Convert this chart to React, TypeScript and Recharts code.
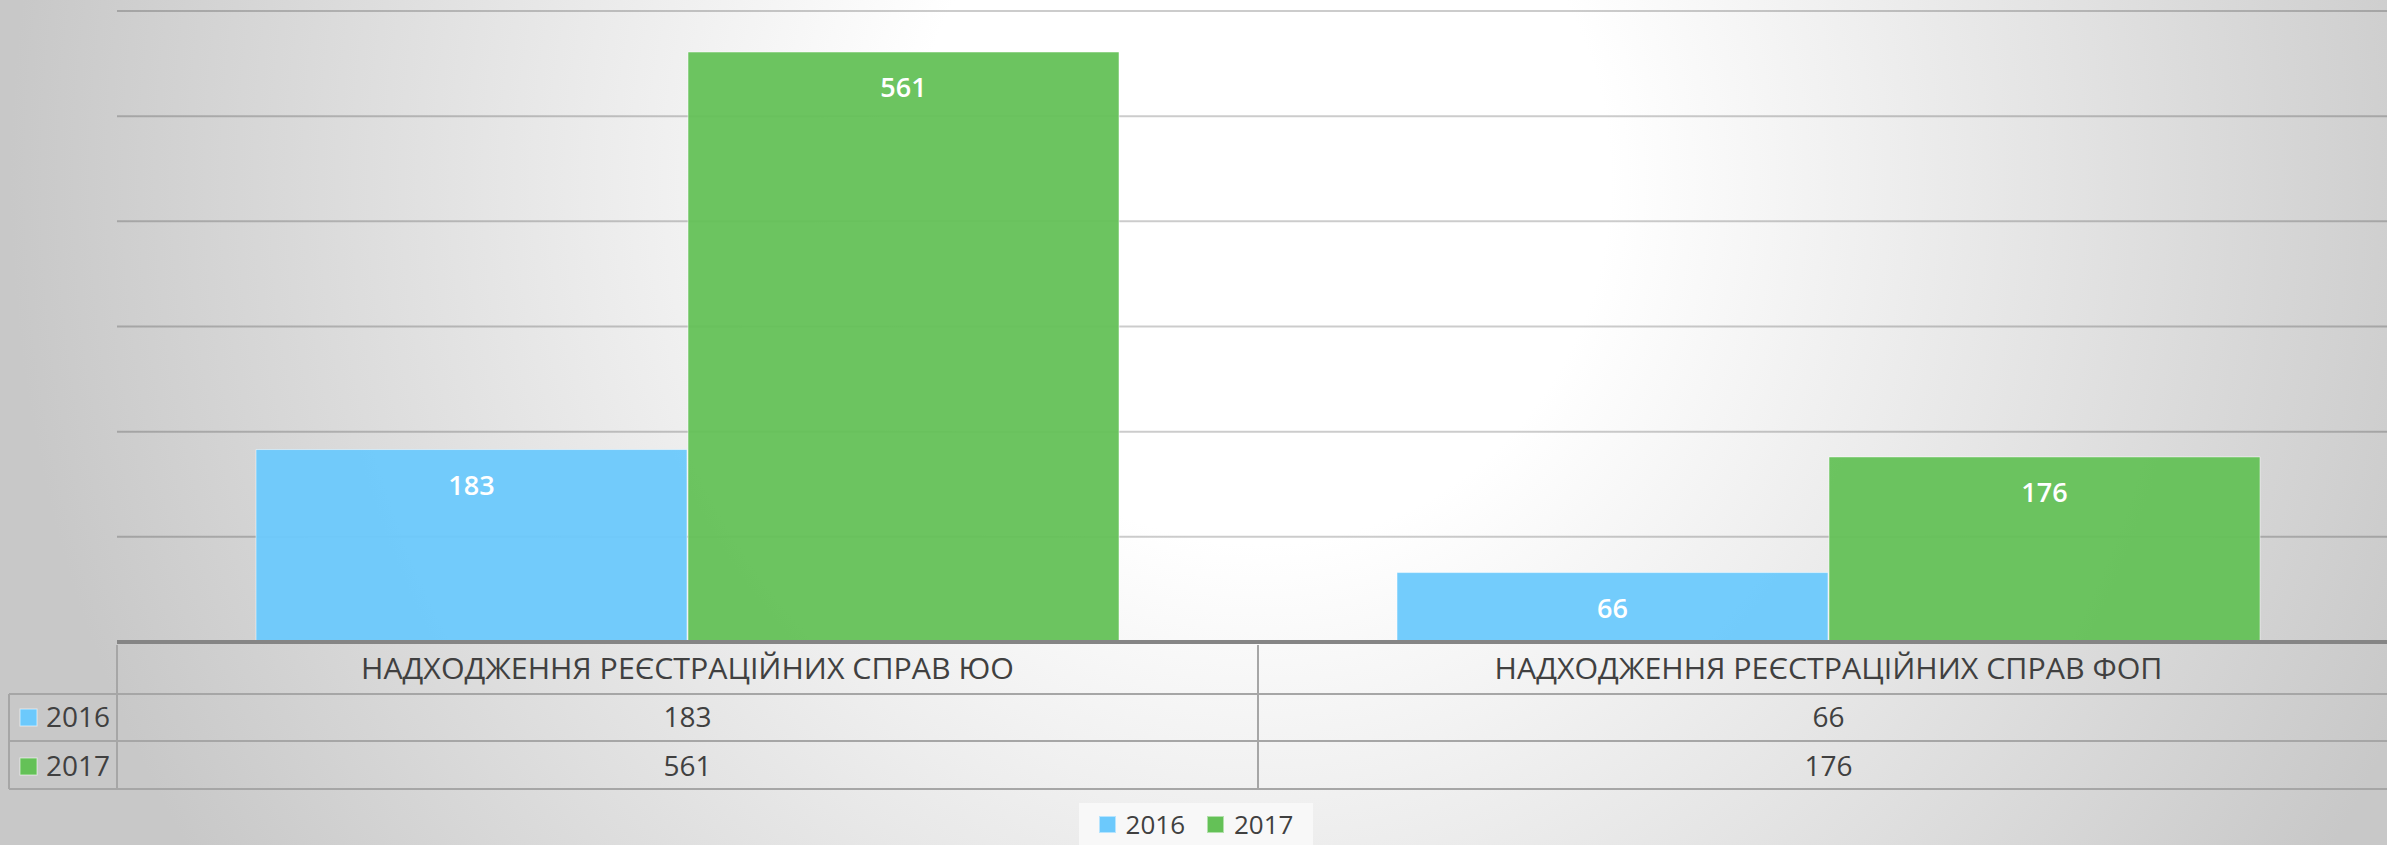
import React from 'react';
import { BarChart, Bar, XAxis, YAxis, CartesianGrid, Legend, LabelList } from 'recharts';

const categories = ['НАДХОДЖЕННЯ РЕЄСТРАЦІЙНИХ СПРАВ ЮО', 'НАДХОДЖЕННЯ РЕЄСТРАЦІЙНИХ СПРАВ ФОП'];
const seriesNames = ['2016', '2017'];
const values2016 = [183, 66];
const values2017 = [561, 176];
const yTicks = [0, 100, 200, 300, 400, 500, 600];
const seriesColors = ['#6CC9FC', '#64C157'];

const data = categories.map((c, i) => ({ category: c, y2016: values2016[i], y2017: values2017[i] }));
const seriesValues = [values2016, values2017];

const CHART_W = 2399;
const CHART_H = 845;
const PLOT_LEFT = 117;
const BAND = (CHART_W - PLOT_LEFT) / categories.length;
const HEAD_TOP = 645;
const ROW_LINES = [694, 741, 789];
const HEAD_BASE = 679;
const ROW_BASES = [727, 776];
const LINE = '#a6a6a6';
const TEXT = '#404040';
const FONT = '"Open Sans", "Noto Sans", sans-serif';
const HEAD_WIDTHS = [653, 668];

const TableTick = (props: any) => {
  const { x, payload } = props;
  const i = props.index ?? payload?.index ?? 0;
  const left = x - BAND / 2;
  const right = x + BAND / 2;
  return (
    <g>
      <line x1={left} y1={HEAD_TOP} x2={left} y2={ROW_LINES[2]} stroke={LINE} strokeWidth={2} />
      {ROW_LINES.map((ly) => (
        <line key={ly} x1={left} y1={ly} x2={right} y2={ly} stroke={LINE} strokeWidth={2} />
      ))}
      <text x={x} y={HEAD_BASE} textAnchor="middle" fontFamily={FONT} fontSize={29} fill={TEXT}
        textLength={HEAD_WIDTHS[i]} lengthAdjust="spacingAndGlyphs">{payload.value}</text>
      {seriesValues.map((vals, s) => (
        <text key={s} x={x} y={ROW_BASES[s]} textAnchor="middle" fontFamily={FONT} fontSize={28} fill={TEXT}>
          {vals[i]}
        </text>
      ))}
      {i === 0 && (
        <g>
          <line x1={9} y1={ROW_LINES[0]} x2={9} y2={ROW_LINES[2]} stroke={LINE} strokeWidth={2} />
          {ROW_LINES.map((ly) => (
            <line key={ly} x1={9} y1={ly} x2={left} y2={ly} stroke={LINE} strokeWidth={2} />
          ))}
          {seriesNames.map((n, s) => (
            <g key={n}>
              <rect x={20} y={ROW_BASES[s] - 18} width={17} height={17} fill={seriesColors[s]}
                stroke="rgba(255,255,255,0.6)" strokeWidth={1} />
              <text x={46} y={ROW_BASES[s]} fontFamily={FONT} fontSize={28} fill={TEXT}>{n}</text>
            </g>
          ))}
        </g>
      )}
    </g>
  );
};

const renderLegend = (props: any) => {
  const { payload } = props;
  return (
    <div style={{ width: 234, height: 42, background: '#f8f8f8', display: 'flex', alignItems: 'center',
      justifyContent: 'center', fontFamily: FONT, fontSize: 26, color: TEXT }}>
      {(payload || []).map((p: any, k: number) => (
        <div key={k} style={{ display: 'flex', alignItems: 'center', marginRight: k === 0 ? 22 : 0 }}>
          <div style={{ width: 17, height: 17, background: p.color, marginRight: 10,
            boxShadow: 'inset 0 0 0 1px rgba(255,255,255,0.5)' }} />
          <span style={{ lineHeight: '42px' }}>{p.value}</span>
        </div>
      ))}
    </div>
  );
};

export default function App() {
  return (
    <div style={{ position: 'absolute', left: 0, top: 0, width: 2387, height: 845, overflow: 'hidden',
      background: 'radial-gradient(ellipse 1250px 1300px at 1260px 180px, #ffffff 0%, #ffffff 28%, #c8c8c8 100%)' }}>
      <BarChart width={CHART_W} height={CHART_H} data={data}
        margin={{ top: 11, right: 0, bottom: 0, left: PLOT_LEFT }} barCategoryGap={139} barGap={1}>
        <CartesianGrid vertical={false} stroke="rgba(0,0,0,0.2)" strokeWidth={2} />
        <XAxis dataKey="category" height={161} interval={0} tickLine={false}
          axisLine={{ stroke: '#858585', strokeWidth: 4 }} tick={(p: any) => <TableTick {...p} />} />
        <YAxis width={0} domain={[0, 600]} ticks={yTicks} interval={0} tick={() => <g />}
          axisLine={false} tickLine={false} />
        <Bar dataKey="y2016" name={seriesNames[0]} fill={seriesColors[0]} fillOpacity={0.95}
          stroke="rgba(255,255,255,0.5)" strokeWidth={1} isAnimationActive={false}>
          <LabelList dataKey="y2016" position="insideTop" offset={26} fill="#ffffff" fontSize={27}
            fontWeight={600} fontFamily={FONT} />
        </Bar>
        <Bar dataKey="y2017" name={seriesNames[1]} fill={seriesColors[1]} fillOpacity={0.95}
          stroke="rgba(255,255,255,0.5)" strokeWidth={1} isAnimationActive={false}>
          <LabelList dataKey="y2017" position="insideTop" offset={26} fill="#ffffff" fontSize={27}
            fontWeight={600} fontFamily={FONT} />
        </Bar>
        <Legend content={renderLegend} verticalAlign="bottom" wrapperStyle={{ left: 1079, width: 234, height: 42 }} />
      </BarChart>
    </div>
  );
}
